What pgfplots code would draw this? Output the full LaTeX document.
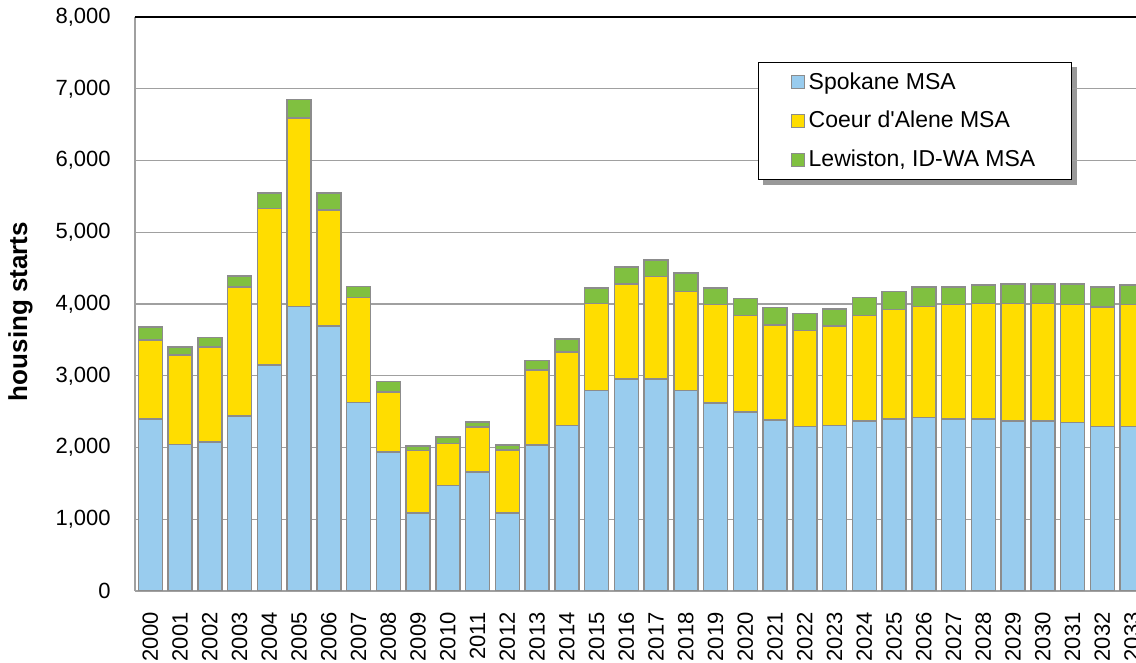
\documentclass[border=0pt]{standalone}
\usepackage{fontspec}
\setmainfont{Liberation Sans}
\usepackage{pgfplots}
\usepackage{pgfplotstable}
\pgfplotsset{compat=1.18}
\usetikzlibrary{backgrounds}

\definecolor{spk}{HTML}{99CCEE}
\definecolor{cda}{HTML}{FFDD00}
\definecolor{lew}{HTML}{80C040}
\definecolor{barline}{HTML}{8C8C8C}
\definecolor{gridc}{HTML}{A0A0A0}

% housing starts by year (index 0 = 2000), stacked increments
\pgfplotstableread{
idx spokane coeur lewiston
0  2400 1100 180
1  2040 1250 110
2  2075 1325 130
3  2440 1800 150
4  3150 2180 215
5  3965 2625 260
6  3695 1615 235
7  2625 1465 155
8  1935  835 150
9  1090  865  65
10 1470  585  90
11 1655  630  70
12 1090  875  70
13 2035 1045 135
14 2305 1025 180
15 2795 1210 215
16 2955 1325 235
17 2955 1430 230
18 2795 1380 255
19 2620 1370 230
20 2495 1345 235
21 2385 1325 240
22 2290 1340 235
23 2305 1390 235
24 2370 1470 250
25 2395 1525 255
26 2415 1550 275
27 2395 1595 250
28 2395 1610 260
29 2370 1635 275
30 2370 1635 275
31 2350 1640 290
32 2290 1670 280
33 2290 1700 275
}\starts

\pgfplotsset{
  sqlegend/.style={legend image code/.code={
    \draw[##1, line width=0.5pt] (0pt,-3.25pt) rectangle (6.5pt,3.25pt);}},
}

\begin{document}
\begin{tikzpicture}
\begin{axis}[
  width=500.5pt, height=287pt, scale only axis,
  ybar stacked, bar width=12pt,
  xmin=-0.514, xmax=33.13, ymin=0, ymax=8000,
  ytick={0,1000,...,8000},
  xtick={0,...,33},
  xticklabels={2000,2001,2002,2003,2004,2005,2006,2007,2008,2009,2010,2011,2012,2013,2014,2015,2016,2017,2018,2019,2020,2021,2022,2023,2024,2025,2026,2027,2028,2029,2030,2031,2032,2033},
  axis lines*=left,
  axis line style={-, draw=gridc},
  x axis line style={line width=1pt},
  y axis line style={line width=0.6pt},
  major tick length=0pt,
  ymajorgrids, grid style={gridc, line width=0.65pt},
  /pgf/number format/assume math mode=true,
  /pgf/number format/1000 sep={,},
  tick label style={font=\fontsize{11}{13}\selectfont},
  xticklabel style={rotate=90, anchor=east, inner sep=0pt},
  yticklabel style={anchor=east, inner sep=0pt},
  xticklabel shift=10.5pt,
  yticklabel shift=12pt,
  ylabel={\textbf{housing starts}},
  ylabel style={at={(axis description cs:-0.1019,0.487)}, anchor=south,
    inner sep=0pt, font=\fontsize{13}{15}\selectfont},
  legend style={name=leg, at={(axis description cs:0.936,0.922)}, anchor=north east,
    draw=black, line width=0.6pt, fill=white,
    inner xsep=16pt, inner ysep=3pt, row sep=5.5pt,
    font=\fontsize{11.5}{13}\selectfont},
  legend cell align=left,
]
\addplot[fill=spk, draw=barline, line width=0.75pt, sqlegend] table[x=idx, y=spokane] {\starts};
\addplot[fill=cda, draw=barline, line width=0.75pt, sqlegend] table[x=idx, y=coeur] {\starts};
\addplot[fill=lew, draw=barline, line width=0.75pt, sqlegend] table[x=idx, y=lewiston] {\starts};
\legend{Spokane MSA, Coeur d\textquotesingle Alene MSA, {Lewiston, ID-WA MSA}}
\end{axis}
\begin{pgfonlayer}{background}
\fill[black!40] ([shift={(2.5pt,-2.5pt)}]leg.south west) rectangle ([shift={(2.5pt,-2.5pt)}]leg.north east);
\end{pgfonlayer}
\draw[black, line width=1pt] (current axis.north west) -- (current axis.north east);
\pgfresetboundingbox
\path[use as bounding box] ([shift={(-67.5pt,-36pt)}]current axis.south west)
  rectangle ([shift={(500.5pt,295.5pt)}]current axis.south west);
\end{tikzpicture}
\end{document}
